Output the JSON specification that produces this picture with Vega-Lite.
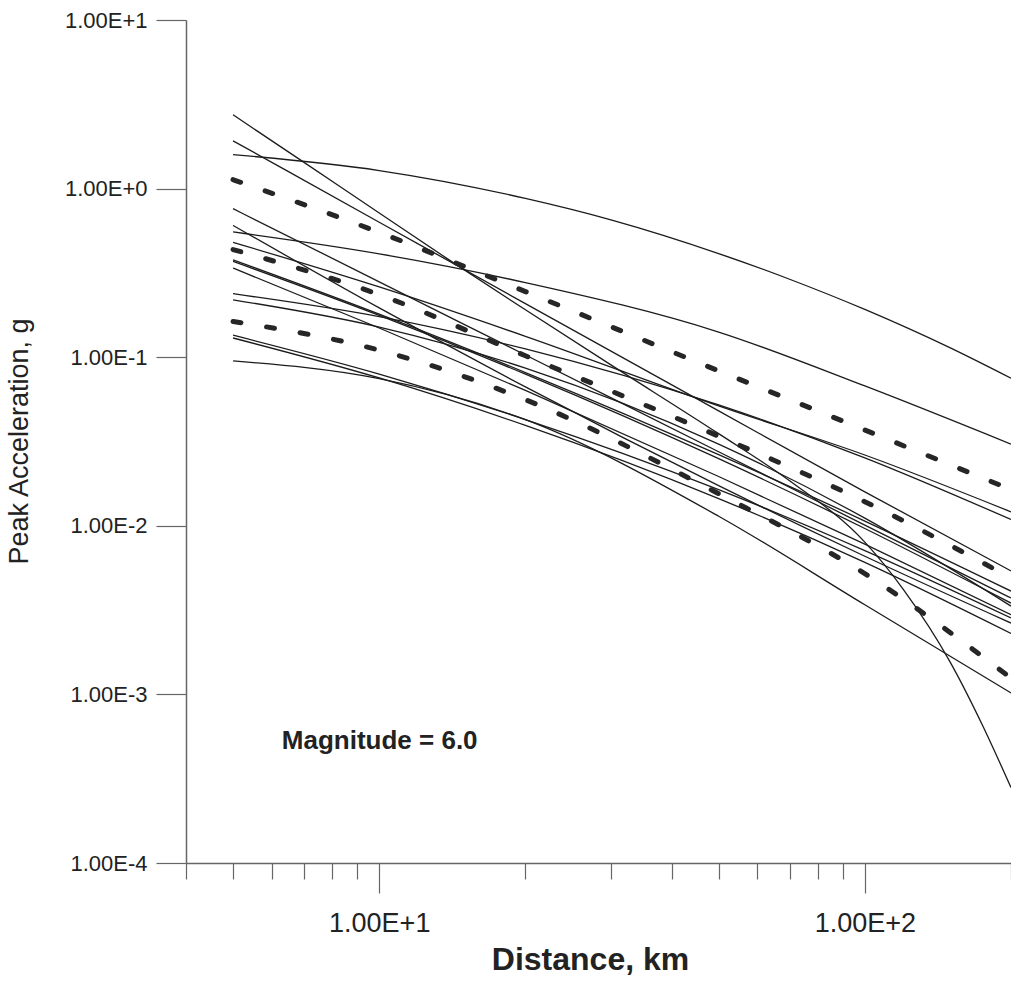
{
  "$schema": "https://vega.github.io/schema/vega-lite/v6.json",
  "width": 825,
  "height": 843,
  "autosize": {"type": "none"},
  "padding": {"left": 186, "top": 20, "right": 0, "bottom": 122},
  "background": "white",
  "config": {"view": {"stroke": null}, "font": "Liberation Sans"},
  "datasets": {
    "solid": [
      {"id": "L0", "d": 5, "a": 1.59}, {"id": "L0", "d": 10, "a": 1.28}, {"id": "L0", "d": 20, "a": 0.875}, {"id": "L0", "d": 30, "a": 0.653}, {"id": "L0", "d": 50, "a": 0.412}, {"id": "L0", "d": 70, "a": 0.29}, {"id": "L0", "d": 100, "a": 0.192}, {"id": "L0", "d": 150, "a": 0.1135}, {"id": "L0", "d": 200, "a": 0.075},
      {"id": "S1", "d": 5, "a": 2.74}, {"id": "S1", "d": 7, "a": 1.43}, {"id": "S1", "d": 10, "a": 0.716}, {"id": "S1", "d": 14, "a": 0.374}, {"id": "S1", "d": 20, "a": 0.191}, {"id": "S1", "d": 30, "a": 0.09}, {"id": "S1", "d": 50, "a": 0.0352}, {"id": "S1", "d": 70, "a": 0.0185}, {"id": "S1", "d": 100, "a": 0.008}, {"id": "S1", "d": 120, "a": 0.0042}, {"id": "S1", "d": 150, "a": 0.00155}, {"id": "S1", "d": 175, "a": 0.00065}, {"id": "S1", "d": 200, "a": 0.00028},
      {"id": "S2", "d": 5, "a": 1.92}, {"id": "S2", "d": 10, "a": 0.632}, {"id": "S2", "d": 20, "a": 0.208}, {"id": "S2", "d": 50, "a": 0.048}, {"id": "S2", "d": 100, "a": 0.0159}, {"id": "S2", "d": 200, "a": 0.0054},
      {"id": "S5", "d": 5, "a": 0.76}, {"id": "S5", "d": 10, "a": 0.28}, {"id": "S5", "d": 20, "a": 0.103}, {"id": "S5", "d": 50, "a": 0.0275}, {"id": "S5", "d": 100, "a": 0.0101}, {"id": "S5", "d": 200, "a": 0.00373},
      {"id": "S6", "d": 5, "a": 0.605}, {"id": "S6", "d": 10, "a": 0.196}, {"id": "S6", "d": 20, "a": 0.0667}, {"id": "S6", "d": 50, "a": 0.0173}, {"id": "S6", "d": 100, "a": 0.0066}, {"id": "S6", "d": 200, "a": 0.00265},
      {"id": "S7", "d": 5, "a": 0.553}, {"id": "S7", "d": 10, "a": 0.41}, {"id": "S7", "d": 20, "a": 0.277}, {"id": "S7", "d": 50, "a": 0.141}, {"id": "S7", "d": 100, "a": 0.0675}, {"id": "S7", "d": 200, "a": 0.0305},
      {"id": "S9", "d": 5, "a": 0.48}, {"id": "S9", "d": 10, "a": 0.261}, {"id": "S9", "d": 20, "a": 0.133}, {"id": "S9", "d": 50, "a": 0.0514}, {"id": "S9", "d": 100, "a": 0.0263}, {"id": "S9", "d": 200, "a": 0.0121},
      {"id": "S10", "d": 5, "a": 0.378}, {"id": "S10", "d": 10, "a": 0.18}, {"id": "S10", "d": 20, "a": 0.0811}, {"id": "S10", "d": 50, "a": 0.0264}, {"id": "S10", "d": 100, "a": 0.01067}, {"id": "S10", "d": 200, "a": 0.0041},
      {"id": "S11", "d": 5, "a": 0.37}, {"id": "S11", "d": 10, "a": 0.177}, {"id": "S11", "d": 20, "a": 0.0794}, {"id": "S11", "d": 50, "a": 0.025}, {"id": "S11", "d": 100, "a": 0.00964}, {"id": "S11", "d": 200, "a": 0.00348},
      {"id": "S12", "d": 5, "a": 0.338}, {"id": "S12", "d": 10, "a": 0.149}, {"id": "S12", "d": 20, "a": 0.0635}, {"id": "S12", "d": 50, "a": 0.0196}, {"id": "S12", "d": 100, "a": 0.00778}, {"id": "S12", "d": 200, "a": 0.00297},
      {"id": "S13", "d": 5, "a": 0.238}, {"id": "S13", "d": 10, "a": 0.174}, {"id": "S13", "d": 20, "a": 0.112}, {"id": "S13", "d": 50, "a": 0.0521}, {"id": "S13", "d": 100, "a": 0.0253}, {"id": "S13", "d": 200, "a": 0.0109},
      {"id": "S14", "d": 5, "a": 0.219}, {"id": "S14", "d": 10, "a": 0.151}, {"id": "S14", "d": 20, "a": 0.0861}, {"id": "S14", "d": 50, "a": 0.0305}, {"id": "S14", "d": 100, "a": 0.0111}, {"id": "S14", "d": 200, "a": 0.00334},
      {"id": "S15", "d": 5, "a": 0.135}, {"id": "S15", "d": 10, "a": 0.0794}, {"id": "S15", "d": 20, "a": 0.0427}, {"id": "S15", "d": 50, "a": 0.0164}, {"id": "S15", "d": 100, "a": 0.00713}, {"id": "S15", "d": 200, "a": 0.00284},
      {"id": "S16", "d": 5, "a": 0.13}, {"id": "S16", "d": 10, "a": 0.0753}, {"id": "S16", "d": 20, "a": 0.0394}, {"id": "S16", "d": 50, "a": 0.0145}, {"id": "S16", "d": 100, "a": 0.00607}, {"id": "S16", "d": 200, "a": 0.0023},
      {"id": "B1", "d": 5, "a": 0.095}, {"id": "B1", "d": 10, "a": 0.0746}, {"id": "B1", "d": 20, "a": 0.0426}, {"id": "B1", "d": 50, "a": 0.0114}, {"id": "B1", "d": 100, "a": 0.0034}, {"id": "B1", "d": 200, "a": 0.00102}
    ],
    "dashed": [
      {"id": "D1", "d": 5, "a": 1.13}, {"id": "D1", "d": 10, "a": 0.55}, {"id": "D1", "d": 20, "a": 0.245}, {"id": "D1", "d": 50, "a": 0.083}, {"id": "D1", "d": 100, "a": 0.037}, {"id": "D1", "d": 200, "a": 0.0164},
      {"id": "D2", "d": 5, "a": 0.435}, {"id": "D2", "d": 10, "a": 0.235}, {"id": "D2", "d": 20, "a": 0.102}, {"id": "D2", "d": 50, "a": 0.034}, {"id": "D2", "d": 100, "a": 0.0139}, {"id": "D2", "d": 200, "a": 0.0049},
      {"id": "D3", "d": 5, "a": 0.163}, {"id": "D3", "d": 10, "a": 0.11}, {"id": "D3", "d": 20, "a": 0.056}, {"id": "D3", "d": 50, "a": 0.0155}, {"id": "D3", "d": 100, "a": 0.0052}, {"id": "D3", "d": 200, "a": 0.00125}
    ],
    "label": [
      {"d": 6.3, "a": 0.000475, "t": "Magnitude = 6.0"}
    ]
  },
  "encoding": {
    "x": {
      "field": "d",
      "type": "quantitative",
      "scale": {"type": "log", "domain": [4, 200], "nice": false},
      "axis": {
        "values": [4, 5, 6, 7, 8, 9, 10, 20, 30, 40, 50, 60, 70, 80, 90, 100, 200],
        "labelExpr": "datum.value == 10 ? '1.00E+1' : (datum.value == 100 ? '1.00E+2' : '')",
        "tickSize": {"condition": {"test": "datum.value == 10 || datum.value == 100", "value": 30}, "value": 16},
        "labelFontSize": 27,
        "labelFont": "Liberation Sans",
        "labelColor": "#222222",
        "labelPadding": 17,
        "labelFlush": false,
        "labelOverlap": false,
        "grid": false,
        "domainColor": "#666666",
        "domainWidth": 1.5,
        "tickColor": "#666666",
        "tickWidth": 1.2,
        "title": "Distance, km",
        "titleFont": "Liberation Sans",
        "titleFontSize": 32,
        "titleFontWeight": "bold",
        "titleColor": "#222222",
        "titleAlign": "center",
        "titleBaseline": "alphabetic",
        "titleX": 404,
        "titleY": 106
      }
    },
    "y": {
      "field": "a",
      "type": "quantitative",
      "scale": {"type": "log", "domain": [0.0001, 10], "nice": false},
      "axis": {
        "values": [0.0001, 0.001, 0.01, 0.1, 1, 10],
        "labelExpr": "datum.value >= 5 ? '1.00E+1' : (datum.value >= 0.5 ? '1.00E+0' : (datum.value >= 0.05 ? '1.00E-1' : (datum.value >= 0.005 ? '1.00E-2' : (datum.value >= 0.0005 ? '1.00E-3' : '1.00E-4'))))",
        "tickSize": 30,
        "labelFontSize": 22,
        "labelFont": "Liberation Sans",
        "labelColor": "#222222",
        "labelPadding": 9,
        "labelFlush": false,
        "labelOverlap": false,
        "grid": false,
        "domainColor": "#666666",
        "domainWidth": 1.5,
        "tickColor": "#666666",
        "tickWidth": 1.2,
        "title": "Peak Acceleration, g",
        "titleFont": "Liberation Sans",
        "titleFontSize": 27,
        "titleFontWeight": "normal",
        "titleColor": "#222222",
        "titleAngle": 270,
        "titleAlign": "center",
        "titleBaseline": "bottom",
        "titleX": -153,
        "titleY": 421
      }
    }
  },
  "layer": [
    {
      "data": {"name": "solid"},
      "mark": {"type": "line", "interpolate": "monotone", "clip": true, "color": "#1c1c1c", "strokeWidth": 1.3},
      "encoding": {"detail": {"field": "id", "type": "nominal"}, "order": {"field": "d", "type": "quantitative"}}
    },
    {
      "data": {"name": "dashed"},
      "mark": {"type": "line", "interpolate": "monotone", "clip": true, "color": "#262626", "strokeWidth": 5, "strokeDash": [8, 26], "strokeCap": "round"},
      "encoding": {"detail": {"field": "id", "type": "nominal"}, "order": {"field": "d", "type": "quantitative"}}
    },
    {
      "data": {"name": "label"},
      "mark": {"type": "text", "align": "left", "baseline": "alphabetic", "font": "Liberation Sans", "fontSize": 26, "fontWeight": "bold", "color": "#222222"},
      "encoding": {"text": {"field": "t", "type": "nominal"}}
    }
  ]
}
